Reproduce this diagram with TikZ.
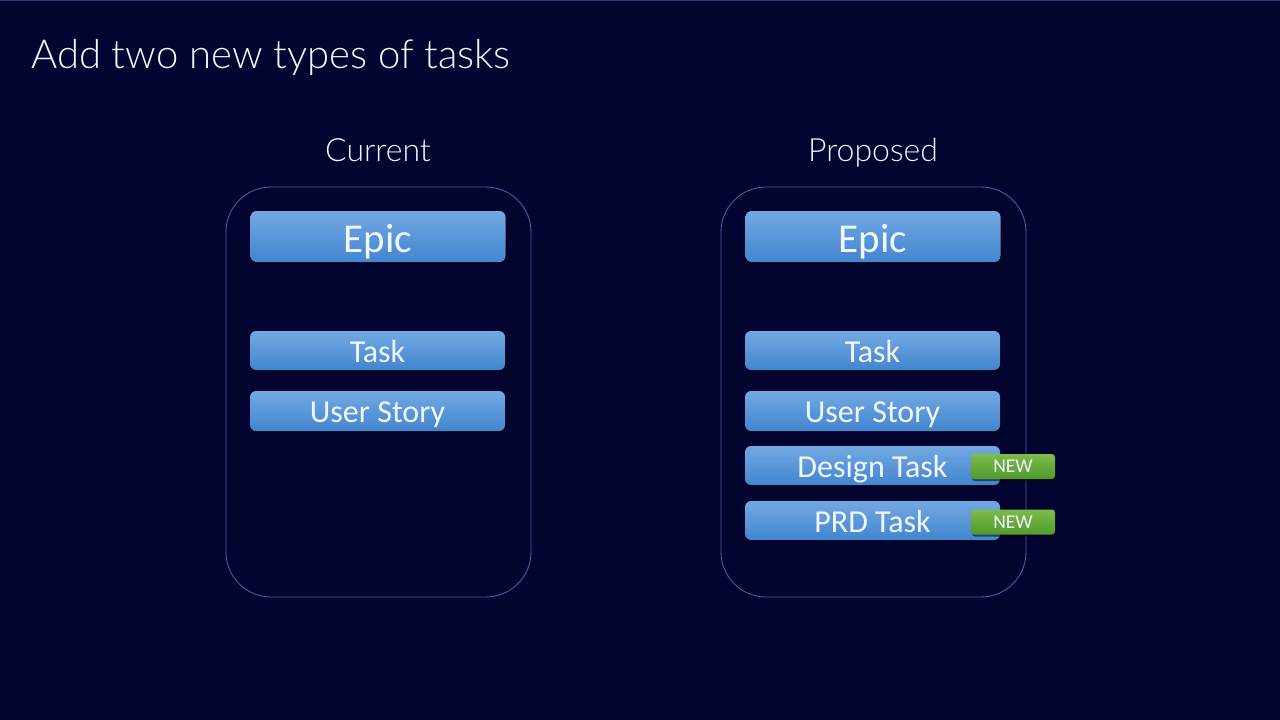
\documentclass[tikz,border=0pt]{standalone}
\usepackage{fontspec}
\setmainfont{Carlito}
\newfontfamily\titlefont{Lato Light}
\usetikzlibrary{shadows}
\definecolor{bg}{HTML}{03042F}
\definecolor{frame}{HTML}{4A5A9E}
\definecolor{btop}{HTML}{72A9E2}
\definecolor{bbot}{HTML}{4285D0}
\definecolor{gtop}{HTML}{7DBB4C}
\definecolor{gbot}{HTML}{4F9A2C}
\definecolor{txt}{HTML}{F2F6FF}
\tikzset{
  container/.style={draw=frame, line width=0.9pt, rounded corners=45pt},
  bluebox/.style={rounded corners=6pt, top color=btop, bottom color=bbot,
    minimum width=255pt, inner sep=0pt, text=txt, text depth=0pt,
    drop shadow={shadow xshift=1pt, shadow yshift=-2pt, opacity=0.5, fill=black}},
  bigbox/.style={bluebox, minimum height=51pt, font=\fontsize{41}{41}\selectfont, text height=32.4pt},
  smallbox/.style={bluebox, font=\fontsize{32}{32}\selectfont, text height=23.6pt},
  newbadge/.style={rounded corners=3pt, top color=gtop, bottom color=gbot,
    minimum width=84pt, minimum height=25pt, inner sep=0pt, text=txt,
    font=\fontsize{19.5}{19.5}\selectfont, text height=12.6pt, text depth=0pt,
    drop shadow={shadow xshift=1pt, shadow yshift=-2pt, opacity=0.5, fill=black}},
  heading/.style={text=txt, inner sep=0pt, font=\titlefont\fontsize{32}{32}\selectfont},
}
\begin{document}
\begin{tikzpicture}[x=1pt,y=-1pt]
\fill[bg] (0,0) rectangle (1280,720);
\useasboundingbox (0,0) rectangle (1280,720);
\draw[frame!60!bg, line width=1pt] (0,0.5) -- (1280,0.5);
% title
\node[heading, anchor=base west, font=\titlefont\fontsize{40}{40}\selectfont] (title) at (31,68) {Add two new types of tasks};
% headings
\node[heading, anchor=base] (cur) at (378,161) {Current};
\node[heading, anchor=base] (prop) at (873,161) {Proposed};
% containers
\draw[container] (226,187) rectangle (531,597);
\coordinate (c1) at (378,392);
\draw[container] (721,187) rectangle (1026,597);
\coordinate (c2) at (873,392);
% current
\node[bigbox] (epic1) at (378,236.5) {Epic};
\node[smallbox, minimum height=39pt] (task1) at (377.5,350.5) {Task};
\node[smallbox, minimum height=40pt] (us1) at (377.5,411) {User Story};
% proposed
\node[bigbox] (epic2) at (873,236.5) {Epic};
\node[smallbox, minimum height=39pt] (task2) at (872.5,350.5) {Task};
\node[smallbox, minimum height=40pt] (us2) at (872.5,411) {User Story};
\node[smallbox, minimum height=39pt] (dt2) at (872.5,465.5) {Design Task};
\node[smallbox, minimum height=39pt] (prd2) at (872.5,520.5) {PRD Task};
\node[newbadge] (new1) at (1013,466.5) {NEW};
\node[newbadge] (new2) at (1013,522) {NEW};
\end{tikzpicture}
\end{document}
